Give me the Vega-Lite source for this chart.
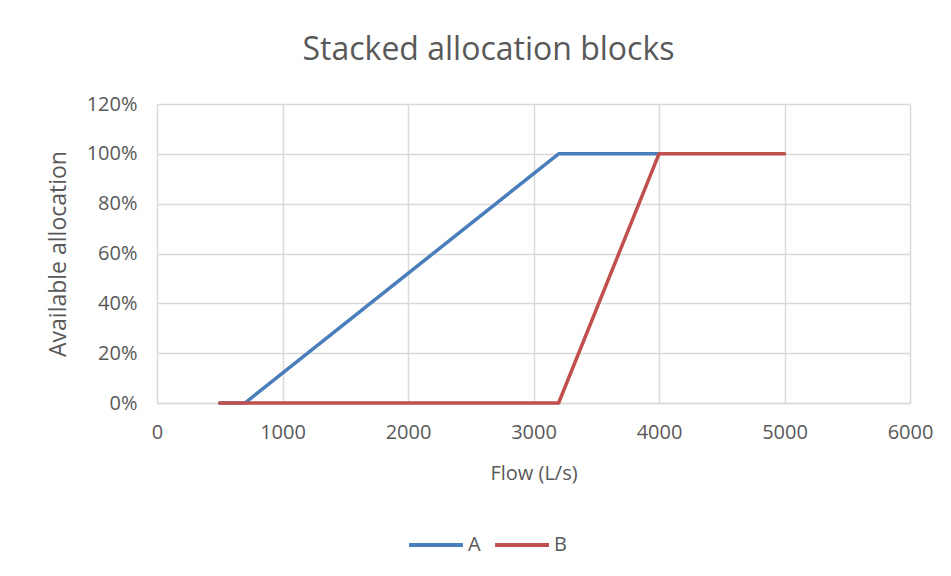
{
  "$schema": "https://vega.github.io/schema/vega-lite/v6.json",
  "width": 753,
  "height": 299,
  "autosize": {"type": "none"},
  "padding": {"left": 157, "top": 104, "right": 41, "bottom": 173},
  "background": "white",
  "title": {
    "text": "Stacked allocation blocks",
    "font": "Open Sans",
    "fontSize": 32,
    "fontWeight": "normal",
    "color": "#595959",
    "anchor": "middle",
    "frame": "group",
    "dx": -45,
    "offset": 27
  },
  "data": {
    "values": [
      {"flow": 500, "allocation": 0, "series": "A"},
      {"flow": 700, "allocation": 0, "series": "A"},
      {"flow": 3200, "allocation": 1, "series": "A"},
      {"flow": 4000, "allocation": 1, "series": "A"},
      {"flow": 500, "allocation": 0, "series": "B"},
      {"flow": 3200, "allocation": 0, "series": "B"},
      {"flow": 4000, "allocation": 1, "series": "B"},
      {"flow": 5000, "allocation": 1, "series": "B"}
    ]
  },
  "mark": {"type": "line", "strokeWidth": 3.5, "strokeCap": "round", "strokeJoin": "round"},
  "encoding": {
    "x": {
      "field": "flow",
      "type": "quantitative",
      "scale": {"domain": [0, 6000], "nice": false},
      "axis": {
        "values": [0, 1000, 2000, 3000, 4000, 5000, 6000],
        "format": "d",
        "title": "Flow (L/s)",
        "titleFont": "Open Sans",
        "titleFontSize": 20,
        "titleFontWeight": "normal",
        "titleColor": "#595959",
        "titlePadding": 21,
        "labelFont": "Open Sans",
        "labelFontSize": 20,
        "labelColor": "#595959",
        "labelPadding": 19,
        "labelFlush": false,
        "ticks": false,
        "domainColor": "#d9d9d9",
        "domainWidth": 1.5,
        "grid": true,
        "gridColor": "#d9d9d9",
        "gridWidth": 1.5
      }
    },
    "y": {
      "field": "allocation",
      "type": "quantitative",
      "scale": {"domain": [0, 1.2], "nice": false},
      "axis": {
        "values": [0, 0.2, 0.4, 0.6, 0.8, 1.0, 1.2],
        "format": ".0%",
        "title": "Available allocation",
        "titleFont": "Open Sans",
        "titleFontSize": 23,
        "titleFontWeight": "normal",
        "titleColor": "#595959",
        "titlePadding": 16,
        "labelFont": "Open Sans",
        "labelFontSize": 20,
        "labelColor": "#595959",
        "labelPadding": 20,
        "ticks": false,
        "domain": false,
        "grid": true,
        "gridColor": "#d9d9d9",
        "gridWidth": 1.5
      }
    },
    "color": {
      "field": "series",
      "type": "nominal",
      "scale": {"domain": ["A", "B"], "range": ["#4a7ebb", "#c0504d"]},
      "legend": {
        "title": null,
        "orient": "none",
        "direction": "horizontal",
        "legendX": 250,
        "legendY": 412,
        "symbolType": "stroke",
        "symbolSize": 2900,
        "symbolStrokeWidth": 4,
        "labelFont": "Open Sans",
        "labelFontSize": 20,
        "labelColor": "#595959",
        "labelOffset": 3,
        "columnPadding": 6
      }
    }
  },
  "config": {"view": {"stroke": null}}
}
